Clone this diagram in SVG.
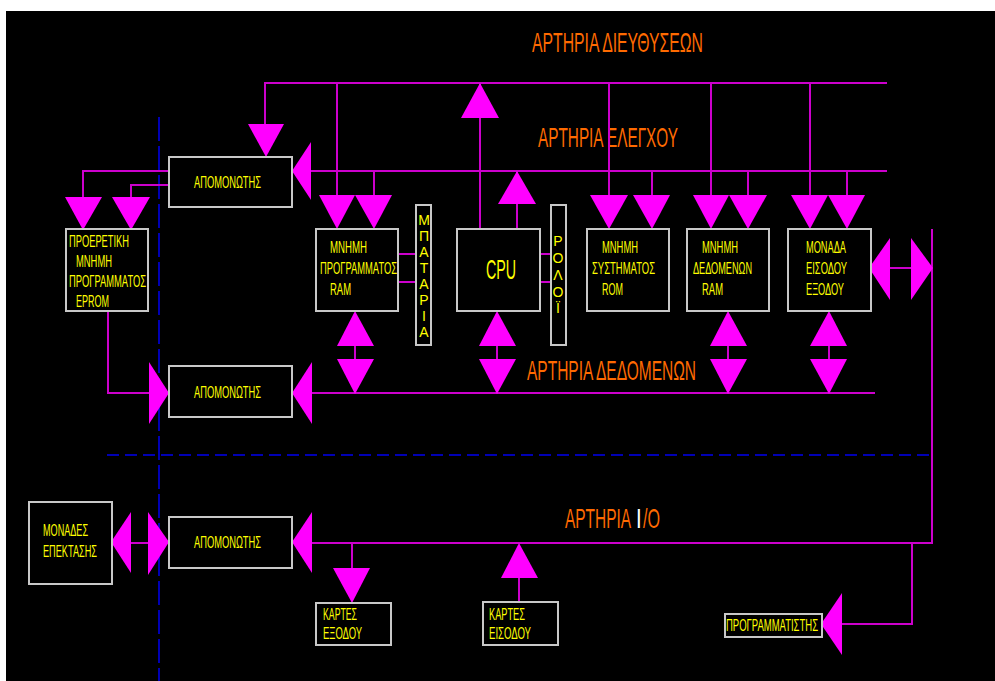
<svg xmlns="http://www.w3.org/2000/svg" width="995" height="681" viewBox="0 0 995 681">
<style>
.ln{stroke:#CC00CC;stroke-width:2;fill:none}
.ar{fill:#FF00FF;stroke:none}
.bx{fill:#000;stroke:#C8C8C8;stroke-width:2}
.dsh{stroke:#0000B4;stroke-width:2;fill:none}
.t{font-family:"Liberation Sans Narrow","Liberation Sans",Arial,sans-serif;font-size:16px;fill:#FFFF00}
.ti{font-family:"Liberation Sans Narrow","Liberation Sans",Arial,sans-serif;font-size:28px;fill:#FF6A00}
.v{font-family:"Liberation Sans","DejaVu Sans",sans-serif;font-size:14px;fill:#FFFF00;text-anchor:middle}
</style>
<rect x="0" y="0" width="995" height="681" fill="#FFFFFF"/>
<rect x="6" y="11" width="989" height="670" fill="#000000"/>

<g id="guides">
<line class="dsh" x1="159" y1="117" x2="159" y2="681" stroke-dasharray="24 5"/>
<line class="dsh" x1="107" y1="455" x2="932" y2="455" stroke-dasharray="12 6"/>
</g>

<g id="titles">
<text class="ti" x="532" y="52" textLength="171" lengthAdjust="spacingAndGlyphs">ΑΡΤΗΡΙΑ ΔΙΕΥΘΥΣΕΩΝ</text>
<text class="ti" x="538" y="147" textLength="140" lengthAdjust="spacingAndGlyphs">ΑΡΤΗΡΙΑ ΕΛΕΓΧΟΥ</text>
<text class="ti" x="527" y="380" textLength="169" lengthAdjust="spacingAndGlyphs">ΑΡΤΗΡΙΑ ΔΕΔΟΜΕΝΩΝ</text>
<text class="ti" transform="translate(565,528) scale(0.55,1)" textLength="120" lengthAdjust="spacingAndGlyphs">ΑΡΤΗΡΙΑ</text>
<text class="ti" transform="translate(636,528) scale(0.73,1)" textLength="7.8" lengthAdjust="spacingAndGlyphs" style="fill:#FFFFFF">I</text>
<text class="ti" transform="translate(643,528) scale(0.575,1)" textLength="29.6" lengthAdjust="spacingAndGlyphs">/O</text>
</g>

<g id="connectors">
<!-- address bus -->
<polyline class="ln" points="265,125 265,83 887,83"/>
<line class="ln" x1="337" y1="83" x2="337" y2="195"/>
<line class="ln" x1="480" y1="83" x2="480" y2="229"/>
<line class="ln" x1="609" y1="83" x2="609" y2="195"/>
<line class="ln" x1="711" y1="83" x2="711" y2="195"/>
<line class="ln" x1="810" y1="83" x2="810" y2="195"/>
<!-- control bus -->
<line class="ln" x1="311" y1="171" x2="887" y2="171"/>
<line class="ln" x1="374" y1="171" x2="374" y2="195"/>
<line class="ln" x1="517" y1="171" x2="517" y2="229"/>
<line class="ln" x1="652" y1="171" x2="652" y2="195"/>
<line class="ln" x1="748" y1="171" x2="748" y2="195"/>
<line class="ln" x1="847" y1="171" x2="847" y2="195"/>
<polyline class="ln" points="169,171 83,171 83,197"/>
<polyline class="ln" points="169,185 131,185 131,197"/>
<!-- side links -->
<line class="ln" x1="398" y1="254" x2="416" y2="254"/>
<line class="ln" x1="398" y1="282" x2="416" y2="282"/>
<line class="ln" x1="540" y1="254" x2="551" y2="254"/>
<line class="ln" x1="540" y1="282" x2="551" y2="282"/>
<!-- data bus -->
<line class="ln" x1="312" y1="393" x2="875" y2="393"/>
<polyline class="ln" points="108,311 108,393 149,393"/>
<line class="ln" x1="355" y1="345" x2="355" y2="360"/>
<line class="ln" x1="497" y1="345" x2="497" y2="360"/>
<line class="ln" x1="728" y1="345" x2="728" y2="360"/>
<line class="ln" x1="829" y1="345" x2="829" y2="360"/>
<line class="ln" x1="890" y1="268" x2="911" y2="268"/>
<!-- I/O bus -->
<polyline class="ln" points="312,543 932,543 932,229"/>
<polyline class="ln" points="912,543 912,624 842,624"/>
<line class="ln" x1="352" y1="543" x2="352" y2="568"/>
<line class="ln" x1="519" y1="578" x2="519" y2="602"/>
<line class="ln" x1="131" y1="543" x2="148" y2="543"/>

<!-- arrowheads -->
<polygon class="ar" points="248,124 284,124 266,157"/>
<polygon class="ar" points="311,142 311,200 292,171"/>
<polygon class="ar" points="65,197 102,197 83,230"/>
<polygon class="ar" points="112,197 150,197 131,230"/>
<polygon class="ar" points="319,195 355,195 337,229"/>
<polygon class="ar" points="355,195 392,195 374,229"/>
<polygon class="ar" points="461,118 499,118 480,83"/>
<polygon class="ar" points="498,204 536,204 517,171"/>
<polygon class="ar" points="590,195 628,195 609,229"/>
<polygon class="ar" points="633,195 670,195 652,229"/>
<polygon class="ar" points="693,195 729,195 711,229"/>
<polygon class="ar" points="729,195 767,195 748,229"/>
<polygon class="ar" points="791,195 828,195 810,229"/>
<polygon class="ar" points="828,195 865,195 847,229"/>
<!-- data double arrows -->
<polygon class="ar" points="337,346 374,346 355,311"/>
<polygon class="ar" points="337,359 374,359 355,394"/>
<polygon class="ar" points="479,346 516,346 497,311"/>
<polygon class="ar" points="479,359 516,359 497,394"/>
<polygon class="ar" points="710,346 747,346 728,311"/>
<polygon class="ar" points="710,359 747,359 728,394"/>
<polygon class="ar" points="810,346 847,346 829,311"/>
<polygon class="ar" points="810,359 847,359 829,394"/>
<polygon class="ar" points="149,362 149,424 169,393"/>
<polygon class="ar" points="312,362 312,424 292,393"/>
<!-- I/O unit side -->
<polygon class="ar" points="890,238 890,300 869,268"/>
<polygon class="ar" points="911,238 911,300 933,268"/>
<!-- I/O bus arrows -->
<polygon class="ar" points="312,512 312,573 292,542"/>
<polygon class="ar" points="148,512 148,575 169,542"/>
<polygon class="ar" points="131,512 131,573 111,542"/>
<polygon class="ar" points="333,568 370,568 352,603"/>
<polygon class="ar" points="501,578 538,578 519,543"/>
<polygon class="ar" points="842,593 842,655 821,624"/>
</g>

<g id="apomonotis1">
<rect class="bx" x="169" y="157" width="123" height="50"/>
<text class="t" x="194" y="188" textLength="67" lengthAdjust="spacingAndGlyphs">ΑΠΟΜΟΝΩΤΗΣ</text>
</g>
<g id="apomonotis2">
<rect class="bx" x="169" y="366" width="123" height="51"/>
<text class="t" x="194" y="398" textLength="67" lengthAdjust="spacingAndGlyphs">ΑΠΟΜΟΝΩΤΗΣ</text>
</g>
<g id="apomonotis3">
<rect class="bx" x="169" y="517" width="123" height="51"/>
<text class="t" x="194" y="548" textLength="67" lengthAdjust="spacingAndGlyphs">ΑΠΟΜΟΝΩΤΗΣ</text>
</g>

<g id="eprom">
<rect class="bx" x="66" y="229" width="82" height="82"/>
<text class="t" x="69" y="247" textLength="60" lengthAdjust="spacingAndGlyphs">ΠΡΟΕΡΕΤΙΚΗ</text>
<text class="t" x="76" y="267" textLength="36" lengthAdjust="spacingAndGlyphs">ΜΝΗΜΗ</text>
<text class="t" x="69" y="287" textLength="77" lengthAdjust="spacingAndGlyphs">ΠΡΟΓΡΑΜΜΑΤΟΣ</text>
<text class="t" x="76" y="307" textLength="33" lengthAdjust="spacingAndGlyphs">EPROM</text>
</g>

<g id="ram-program">
<rect class="bx" x="316" y="229" width="82" height="82"/>
<text class="t" x="330" y="253" textLength="37" lengthAdjust="spacingAndGlyphs">ΜΝΗΜΗ</text>
<text class="t" transform="translate(320,274) scale(0.575,1)" textLength="134" lengthAdjust="spacingAndGlyphs">ΠΡΟΓΡΑΜΜΑΤΟΣ</text>
<text class="t" x="330" y="295" textLength="21" lengthAdjust="spacingAndGlyphs">RAM</text>
</g>

<g id="battery">
<rect class="bx" x="416" y="205" width="15" height="140"/>
<text class="v" x="424" y="225">Μ</text>
<text class="v" x="424" y="241">Π</text>
<text class="v" x="424" y="257">Α</text>
<text class="v" x="424" y="273">Τ</text>
<text class="v" x="424" y="289">Α</text>
<text class="v" x="424" y="305">Ρ</text>
<text class="v" x="424" y="321">Ι</text>
<text class="v" x="424" y="337">Α</text>
</g>

<g id="cpu">
<rect class="bx" x="457" y="229" width="83" height="82"/>
<text class="ti" x="486" y="279" style="fill:#FFFF00" textLength="30" lengthAdjust="spacingAndGlyphs">CPU</text>
</g>

<g id="clock">
<rect class="bx" x="551" y="205" width="15" height="140"/>
<text class="v" x="558" y="246">Ρ</text>
<text class="v" x="558" y="263">Ο</text>
<text class="v" x="558" y="280">Λ</text>
<text class="v" x="558" y="297">Ο</text>
<text class="v" x="558" y="313">Ϊ</text>
</g>

<g id="rom">
<rect class="bx" x="587" y="229" width="82" height="82"/>
<text class="t" x="602" y="253" textLength="36" lengthAdjust="spacingAndGlyphs">ΜΝΗΜΗ</text>
<text class="t" x="592" y="274" textLength="63" lengthAdjust="spacingAndGlyphs">ΣΥΣΤΗΜΑΤΟΣ</text>
<text class="t" x="602" y="295" textLength="21" lengthAdjust="spacingAndGlyphs">ROM</text>
</g>

<g id="ram-data">
<rect class="bx" x="687" y="229" width="82" height="82"/>
<text class="t" x="702" y="253" textLength="36" lengthAdjust="spacingAndGlyphs">ΜΝΗΜΗ</text>
<text class="t" x="693" y="274" textLength="59" lengthAdjust="spacingAndGlyphs">ΔΕΔΟΜΕΝΩΝ</text>
<text class="t" x="702" y="295" textLength="21" lengthAdjust="spacingAndGlyphs">RAM</text>
</g>

<g id="io-unit">
<rect class="bx" x="788" y="229" width="83" height="82"/>
<text class="t" x="806" y="253" textLength="40" lengthAdjust="spacingAndGlyphs">ΜΟΝΑΔΑ</text>
<text class="t" x="806" y="274" textLength="41" lengthAdjust="spacingAndGlyphs">ΕΙΣΟΔΟΥ</text>
<text class="t" x="806" y="295" textLength="38" lengthAdjust="spacingAndGlyphs">ΕΞΟΔΟΥ</text>
</g>

<g id="expansion">
<rect class="bx" x="29" y="502" width="83" height="82"/>
<text class="t" x="43" y="536" textLength="45" lengthAdjust="spacingAndGlyphs">ΜΟΝΑΔΕΣ</text>
<text class="t" x="43" y="557" textLength="54" lengthAdjust="spacingAndGlyphs">ΕΠΕΚΤΑΣΗΣ</text>
</g>

<g id="output-cards">
<rect class="bx" x="316" y="603" width="75" height="42"/>
<text class="t" x="323" y="620" textLength="34" lengthAdjust="spacingAndGlyphs">ΚΑΡΤΕΣ</text>
<text class="t" x="323" y="639" textLength="39" lengthAdjust="spacingAndGlyphs">ΕΞΟΔΟΥ</text>
</g>

<g id="input-cards">
<rect class="bx" x="483" y="602" width="75" height="43"/>
<text class="t" x="489" y="620" textLength="36" lengthAdjust="spacingAndGlyphs">ΚΑΡΤΕΣ</text>
<text class="t" x="489" y="639" textLength="42" lengthAdjust="spacingAndGlyphs">ΕΙΣΟΔΟΥ</text>
</g>

<g id="programmer">
<rect class="bx" x="725" y="614" width="97" height="23"/>
<text class="t" x="726" y="631" textLength="92" lengthAdjust="spacingAndGlyphs">ΠΡΟΓΡΑΜΜΑΤΙΣΤΗΣ</text>
</g>
</svg>
